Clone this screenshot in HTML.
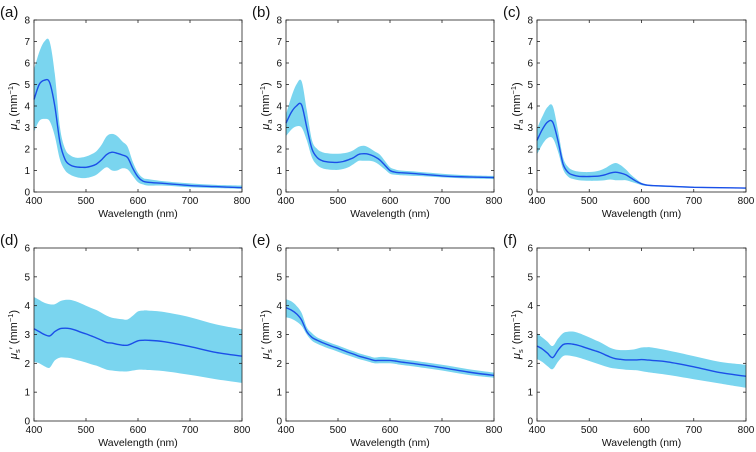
<!DOCTYPE html>
<html><head><meta charset="utf-8"><style>
body{margin:0;background:#fff;}
svg{display:block;font-family:"Liberation Sans",sans-serif;}
</style></head><body>
<svg id="fig" width="756" height="452" viewBox="0 0 756 452"></svg>
<script>
const wl=[400,410,420,430,440,450,460,470,480,490,500,510,520,530,540,550,560,570,580,590,600,610,620,650,700,750,800];
const aMean=[4.3,5.0,5.2,5.1,4.0,2.3,1.5,1.25,1.17,1.15,1.15,1.2,1.3,1.5,1.75,1.85,1.8,1.72,1.6,1.1,0.7,0.5,0.45,0.4,0.3,0.25,0.2];
const aUp=[5.7,6.5,7.0,7.0,5.5,3.0,2.0,1.7,1.6,1.6,1.65,1.75,1.9,2.2,2.6,2.7,2.6,2.35,2.1,1.4,0.9,0.65,0.6,0.5,0.4,0.33,0.3];
const aLo=[2.8,3.3,3.4,3.3,2.6,1.5,1.0,0.8,0.7,0.65,0.65,0.7,0.8,1.0,1.15,1.0,1.0,1.1,1.05,0.75,0.45,0.35,0.3,0.3,0.22,0.18,0.15];
const bMean=[3.2,3.7,4.0,4.05,3.0,2.0,1.6,1.45,1.4,1.38,1.38,1.42,1.5,1.6,1.75,1.78,1.75,1.65,1.5,1.25,1.0,0.92,0.9,0.85,0.75,0.7,0.67];
const bUp=[3.6,4.4,5.0,5.15,3.8,2.4,2.0,1.85,1.8,1.78,1.78,1.8,1.85,1.95,2.1,2.15,2.05,1.9,1.75,1.45,1.15,1.05,1.0,0.95,0.85,0.78,0.75];
const bLo=[2.6,2.9,3.05,3.0,2.4,1.6,1.25,1.1,1.05,1.03,1.03,1.07,1.15,1.3,1.45,1.45,1.45,1.4,1.25,1.05,0.85,0.8,0.78,0.75,0.68,0.63,0.6];
const cMean=[2.4,2.9,3.25,3.25,2.4,1.3,0.9,0.78,0.73,0.72,0.72,0.73,0.75,0.8,0.88,0.92,0.88,0.8,0.65,0.5,0.38,0.32,0.3,0.27,0.22,0.2,0.18];
const cUp=[2.95,3.5,3.95,4.0,2.9,1.6,1.15,1.0,0.95,0.93,0.93,0.95,1.0,1.1,1.25,1.35,1.25,1.05,0.8,0.6,0.43,0.36,0.33,0.3,0.25,0.22,0.2];
const cLo=[1.75,2.2,2.5,2.5,1.9,1.05,0.7,0.6,0.55,0.53,0.52,0.52,0.53,0.55,0.58,0.55,0.55,0.55,0.48,0.4,0.32,0.28,0.26,0.23,0.19,0.17,0.15];
const dMean=[3.2,3.1,3.0,2.95,3.1,3.2,3.22,3.2,3.15,3.08,3.02,2.95,2.88,2.8,2.72,2.7,2.66,2.63,2.63,2.7,2.78,2.8,2.8,2.75,2.58,2.38,2.25];
const dUp=[4.3,4.2,4.1,4.05,4.05,4.15,4.2,4.2,4.15,4.08,4.0,3.92,3.85,3.75,3.65,3.58,3.55,3.53,3.52,3.65,3.8,3.83,3.83,3.78,3.6,3.35,3.18];
const dLo=[2.05,2.0,1.9,1.85,2.1,2.2,2.2,2.18,2.13,2.08,2.03,1.97,1.92,1.85,1.78,1.75,1.73,1.72,1.72,1.75,1.78,1.78,1.77,1.73,1.6,1.45,1.32];
const eMean=[3.93,3.85,3.72,3.5,3.1,2.9,2.8,2.72,2.65,2.58,2.52,2.45,2.38,2.32,2.25,2.2,2.15,2.1,2.1,2.1,2.1,2.08,2.05,1.98,1.85,1.7,1.58];
const eUp=[4.22,4.15,4.0,3.75,3.25,3.05,2.9,2.82,2.75,2.68,2.62,2.55,2.48,2.42,2.35,2.3,2.25,2.2,2.22,2.22,2.2,2.18,2.15,2.08,1.95,1.8,1.68];
const eLo=[3.6,3.55,3.45,3.3,3.0,2.78,2.68,2.6,2.53,2.47,2.4,2.33,2.27,2.21,2.15,2.1,2.05,2.0,2.0,2.0,2.0,1.98,1.95,1.88,1.75,1.6,1.5];
const fMean=[2.6,2.5,2.35,2.2,2.45,2.65,2.68,2.66,2.62,2.56,2.5,2.44,2.38,2.3,2.22,2.16,2.14,2.12,2.12,2.12,2.13,2.12,2.1,2.05,1.88,1.68,1.55];
const fUp=[3.05,2.9,2.75,2.6,2.85,3.05,3.1,3.1,3.05,2.98,2.9,2.82,2.74,2.64,2.54,2.48,2.46,2.46,2.47,2.5,2.55,2.56,2.55,2.45,2.25,2.05,1.95];
const fLo=[2.15,2.05,1.9,1.8,2.05,2.25,2.27,2.24,2.2,2.14,2.08,2.02,1.96,1.9,1.85,1.82,1.8,1.78,1.77,1.76,1.73,1.7,1.67,1.6,1.45,1.3,1.15];
const xTicks=[400,500,600,700,800];
const yTicksTop=[0,1,2,3,4,5,6,7,8];
const yTicksBot=[0,1,2,3,4,5,6];

const NS="http://www.w3.org/2000/svg";
const svg=document.getElementById('fig');
function mk(tag,attrs,parent){const e=document.createElementNS(NS,tag);for(const k in attrs)e.setAttribute(k,attrs[k]);(parent||svg).appendChild(e);return e;}
// smooth path through points (Catmull-Rom -> cubic Bezier)
function smooth(pts,start){
 let s=start?'M'+pts[0][0].toFixed(1)+','+pts[0][1].toFixed(1):'L'+pts[0][0].toFixed(1)+','+pts[0][1].toFixed(1);
 for(let i=0;i<pts.length-1;i++){
  const p0=pts[Math.max(i-1,0)],p1=pts[i],p2=pts[i+1],p3=pts[Math.min(i+2,pts.length-1)];
  const c1=[p1[0]+(p2[0]-p0[0])/6,p1[1]+(p2[1]-p0[1])/6];
  const c2=[p2[0]-(p3[0]-p1[0])/6,p2[1]-(p3[1]-p1[1])/6];
  s+='C'+c1.map(v=>v.toFixed(1)).join(',')+' '+c2.map(v=>v.toFixed(1)).join(',')+' '+p2.map(v=>v.toFixed(1)).join(',');
 }
 return s;
}

const panels=[
 {id:'a',x0:34,x1:242,y0:20,y1:192,ymax:8,yt:yTicksTop,m:aMean,u:aUp,l:aLo,sc:false},
 {id:'b',x0:286,x1:494,y0:20,y1:192,ymax:8,yt:yTicksTop,m:bMean,u:bUp,l:bLo,sc:false},
 {id:'c',x0:537,x1:746,y0:20,y1:192,ymax:8,yt:yTicksTop,m:cMean,u:cUp,l:cLo,sc:false},
 {id:'d',x0:34,x1:242,y0:248,y1:421,ymax:6,yt:yTicksBot,m:dMean,u:dUp,l:dLo,sc:true},
 {id:'e',x0:286,x1:494,y0:248,y1:421,ymax:6,yt:yTicksBot,m:eMean,u:eUp,l:eLo,sc:true},
 {id:'f',x0:537,x1:746,y0:248,y1:421,ymax:6,yt:yTicksBot,m:fMean,u:fUp,l:fLo,sc:true}
];
panels.forEach(p=>{
 const g=mk('g',{});
 
 
 const X=v=>p.x0+(v-400)/400*(p.x1-p.x0);
 const Y=v=>p.y1-v/p.ymax*(p.y1-p.y0);
 const up=wl.map((w,i)=>[X(w),Y(p.u[i])]);
 const lo=wl.map((w,i)=>[X(w),Y(p.l[i])]).reverse();
 const band=mk('path',{d:smooth(up,true)+smooth(lo,false)+'Z',fill:'#7ad5ef',stroke:'none'},g);
 
 
 const mp=wl.map((w,i)=>[X(w),Y(p.m[i])]);
 const line=mk('path',{d:smooth(mp,true),fill:'none',stroke:'#1b4fe8','stroke-width':1.4},g);
 
 
 const box=mk('rect',{x:p.x0,y:p.y0,width:p.x1-p.x0,height:p.y1-p.y0,fill:'none',stroke:'#222','stroke-width':0.8},g);
 
 
 xTicks.forEach(t=>{
  const x=X(t);
  mk('line',{x1:x,x2:x,y1:p.y1,y2:p.y1-3,stroke:'#222','stroke-width':0.8},g);
  mk('line',{x1:x,x2:x,y1:p.y0,y2:p.y0+3,stroke:'#222','stroke-width':0.8},g);
  const tx=mk('text',{x:x,y:p.y1+12,'font-size':10,'text-anchor':'middle',fill:'#111'},g);
  tx.textContent=t;
  
  
 });
 p.yt.forEach(t=>{
  const y=Y(t);
  mk('line',{x1:p.x0,x2:p.x0+3,y1:y,y2:y,stroke:'#222','stroke-width':0.8},g);
  mk('line',{x1:p.x1,x2:p.x1-3,y1:y,y2:y,stroke:'#222','stroke-width':0.8},g);
  const ty=mk('text',{x:p.x0-4,y:y+3.5,'font-size':10,'text-anchor':'end',fill:'#111'},g);
  ty.textContent=t;
  
  
 });
 const xt=mk('text',{x:(p.x0+p.x1)/2,y:p.y1+25,'font-size':10.5,'text-anchor':'middle',fill:'#111'},g);
 xt.textContent='Wavelength (nm)';
 
 
 const cy=(p.y0+p.y1)/2;
 const yt=mk('text',{x:0,y:0,'font-size':11,'text-anchor':'middle',fill:'#111',transform:`translate(${p.x0-17},${cy}) rotate(-90)`},g);
 
 
 yt.innerHTML=p.sc?'<tspan font-style="italic">μ</tspan><tspan font-size="7.5" dy="3">s</tspan><tspan dy="-3">′ (mm</tspan><tspan font-size="7.5" dy="-4">−1</tspan><tspan dy="4">)</tspan>'
  :'<tspan font-style="italic">μ</tspan><tspan font-size="7.5" dy="3">a</tspan><tspan dy="-3"> (mm</tspan><tspan font-size="7.5" dy="-4">−1</tspan><tspan dy="4">)</tspan>';
 const pl=mk('text',{x:p.x0-34,y:p.y0-3,'font-size':15,fill:'#111'},g);
 pl.textContent='('+p.id+')';
 
 
});
</script>
</body></html>
